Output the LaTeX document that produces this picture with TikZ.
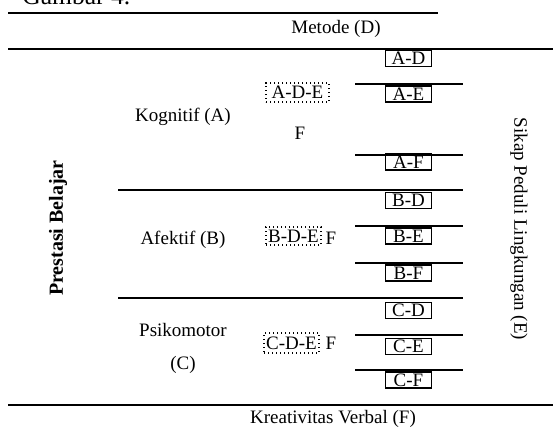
\documentclass[tikz,border=0pt]{standalone}
\usepackage{fontspec}
\setmainfont{Liberation Serif}
\begin{document}
\begin{tikzpicture}[x=0.75pt,y=-0.75pt,
  font=\fontsize{14.25}{17}\selectfont,
  longrule/.style={line width=1.5pt},
  shortrule/.style={line width=1pt},
  cell/.style={draw, line width=0.8pt, minimum width=35pt, minimum height=12pt, inner sep=0pt},
  grp/.style={draw, dotted, line width=1pt, inner sep=0pt},
  lbl/.style={inner sep=0pt}]
\useasboundingbox (0,0) rectangle (553,437);
% title (cut off at top)
\node[lbl, anchor=base west, font=\fontsize{19.2}{22}\selectfont] (title) at (22,4) {Gambar 4.};
% rules
\coordinate (t1) at (8,13);   \coordinate (t2) at (438,13);
\coordinate (h1) at (8,49);   \coordinate (h2) at (553,49);
\coordinate (b1) at (8,405);  \coordinate (b2) at (553,405);
\draw[longrule] (t1) -- (t2);
\draw[longrule] (h1) -- (h2);
\draw[longrule] (b1) -- (b2);
\draw[longrule] (118,190) -- (463,190);
\draw[longrule] (118,298) -- (463,298);
\foreach \yy in {84,155,226,263,335,370}
  \draw[shortrule] (355,\yy) -- (463,\yy);
% headers
\node[lbl] (metode) at (336,29) {Metode (D)};
\node[lbl] (kreativ) at (333,419) {Kreativitas Verbal (F)};
\node[lbl, rotate=90, font=\fontsize{15}{17}\selectfont\bfseries] (prestasi) at (58,228) {Prestasi Belajar};
\node[lbl, rotate=-90] (sikap) at (519,229) {Sikap Peduli Lingkungan (E)};
% rows
\node[lbl] (kog) at (183,117) {Kognitif (A)};
\node[lbl] (afe) at (183,240) {Afektif (B)};
\node[lbl] (psi) at (183,330) {Psikomotor};
\node[lbl] (psic) at (183,365) {(C)};
% groups
\node[grp, minimum width=47.25pt, minimum height=14.25pt] (ade) at (297.5,92.5) {A-D-E};
\node[lbl] (adef) at (300,133) {F};
\node[grp, minimum width=41.25pt, minimum height=13.5pt] (bde) at (293.5,236) {B-D-E};
\node[lbl] (bdef) at (331,238) {F};
\node[grp, minimum width=41.25pt, minimum height=15pt] (cde) at (291.5,343) {C-D-E};
\node[lbl] (cdef) at (331,343) {F};
% cells
\node[cell] (AD) at (408.5,58.5) {A-D};
\node[cell] (AE) at (408.5,94) {A-E};
\node[cell] (AF) at (408.5,162) {A-F};
\node[cell] (BD) at (408.5,200.5) {B-D};
\node[cell] (BE) at (408.5,236) {B-E};
\node[cell] (BF) at (408.5,273) {B-F};
\node[cell] (CD) at (408.5,310.5) {C-D};
\node[cell] (CE) at (408.5,346.5) {C-E};
\node[cell] (CF) at (408.5,380) {C-F};
\end{tikzpicture}
\end{document}
